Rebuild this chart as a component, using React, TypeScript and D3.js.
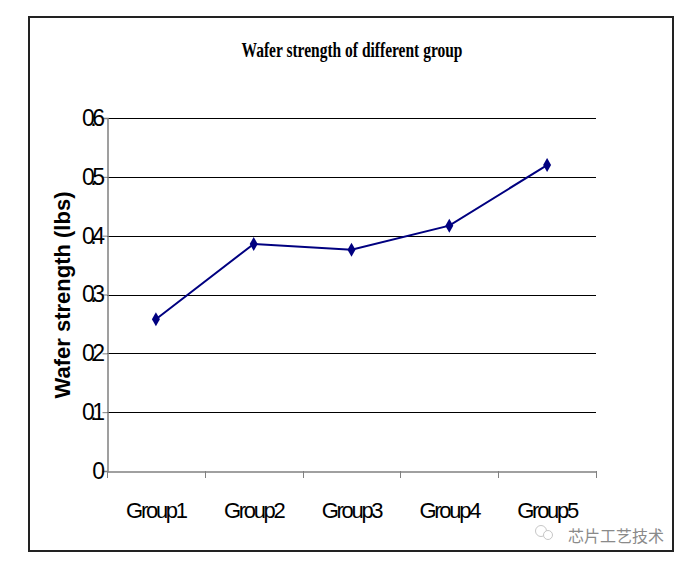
import { useEffect, useRef } from "react";
import * as d3 from "d3";

const groups = ["Group1", "Group2", "Group3", "Group4", "Group5"];
const strength = [0.258, 0.386, 0.376, 0.417, 0.52];
const yTicks = [0, 0.1, 0.2, 0.3, 0.4, 0.5, 0.6];

export default function App() {
  const ref = useRef<SVGSVGElement>(null);

  useEffect(() => {
    const svg = d3.select(ref.current);
    svg.selectAll("*").remove();

    const W = 692;
    const H = 566;
    const plot = { left: 107, right: 596, top: 118, bottom: 471 };

    svg.append("rect").attr("width", W).attr("height", H).attr("fill", "#fff");

    // outer frame
    svg
      .append("rect")
      .attr("x", 29)
      .attr("y", 17)
      .attr("width", 644)
      .attr("height", 534)
      .attr("fill", "none")
      .attr("stroke", "#222")
      .attr("stroke-width", 2);

    const x = d3.scaleBand().domain(groups).range([plot.left, plot.right]).padding(0);
    const y = d3.scaleLinear().domain([0, 0.6]).range([plot.bottom, plot.top]);

    // gridlines
    svg
      .append("g")
      .selectAll("line")
      .data(yTicks.filter((t) => t > 0))
      .join("line")
      .attr("x1", plot.left)
      .attr("x2", plot.right)
      .attr("y1", (d) => Math.round(y(d)) + 0.5)
      .attr("y2", (d) => Math.round(y(d)) + 0.5)
      .attr("stroke", "#000")
      .attr("stroke-width", 1);

    // y axis
    const yAxis = svg
      .append("g")
      .attr("transform", `translate(${plot.left + 0.5},0)`)
      .call(
        d3
          .axisLeft(y)
          .tickValues(yTicks)
          .tickSize(5)
          .tickPadding(2)
          .tickFormat((d) => (d === 0 ? "0" : d3.format(".1f")(d as number)))
      );
    yAxis.select(".domain").attr("stroke", "#808080").attr("stroke-width", 1.5);
    yAxis.selectAll(".tick line").attr("stroke", "#808080");
    yAxis
      .selectAll("text")
      .attr("font-family", "'Liberation Sans', Arial, sans-serif")
      .attr("font-size", 23)
      .attr("letter-spacing", -4.5)
      .attr("fill", "#000");

    // x axis
    const xAxis = svg
      .append("g")
      .attr("transform", `translate(0,${plot.bottom + 0.5})`)
      .call(d3.axisBottom(x).tickSize(0).tickPadding(31));
    xAxis.select(".domain").attr("stroke", "#808080").attr("stroke-width", 1.5);
    xAxis
      .selectAll("text")
      .attr("font-family", "'Liberation Sans', Arial, sans-serif")
      .attr("font-size", 22)
      .attr("letter-spacing", -2.3)
      .attr("fill", "#000");
    const edges = [...groups.map((g) => x(g)!), plot.right];
    svg
      .append("g")
      .selectAll("line")
      .data(edges)
      .join("line")
      .attr("x1", (d) => Math.round(d) + 0.5)
      .attr("x2", (d) => Math.round(d) + 0.5)
      .attr("y1", plot.bottom)
      .attr("y2", plot.bottom + 7)
      .attr("stroke", "#808080")
      .attr("stroke-width", 1);

    // line
    const cx = (i: number) => x(groups[i])! + x.bandwidth() / 2;
    const line = d3
      .line<number>()
      .x((_, i) => cx(i))
      .y((d) => y(d));
    svg
      .append("path")
      .datum(strength)
      .attr("d", line)
      .attr("fill", "none")
      .attr("stroke", "#000080")
      .attr("stroke-width", 2);

    svg
      .append("g")
      .selectAll("path")
      .data(strength)
      .join("path")
      .attr("transform", (d, i) => `translate(${cx(i)},${y(d)})`)
      .attr("d", "M0,-7 L4,0 L0,7 L-4,0 Z")
      .attr("fill", "#000080");

    // title
    svg
      .append("text")
      .attr("x", 352)
      .attr("y", 57)
      .attr("text-anchor", "middle")
      .attr("font-family", "'Liberation Serif', 'Times New Roman', serif")
      .attr("font-weight", "bold")
      .attr("font-size", 21)
      .attr("textLength", 221)
      .attr("lengthAdjust", "spacingAndGlyphs")
      .text("Wafer strength of different group");

    // y title
    svg
      .append("text")
      .attr("transform", `translate(70,${295}) rotate(-90)`)
      .attr("text-anchor", "middle")
      .attr("font-family", "'Liberation Sans', Arial, sans-serif")
      .attr("font-weight", "bold")
      .attr("font-size", 22)
      .text("Wafer strength (lbs)");

    // watermark
    const wm = svg.append("g").attr("transform", "translate(535,535)").attr("opacity", 0.55);
    wm.append("circle").attr("cx", 6).attr("cy", -4).attr("r", 5.5).attr("fill", "none").attr("stroke", "#999").attr("stroke-width", 1);
    wm.append("circle").attr("cx", 13).attr("cy", 0).attr("r", 4.5).attr("fill", "#fff").attr("stroke", "#999").attr("stroke-width", 1);
    svg
      .append("text")
      .attr("x", 568)
      .attr("y", 542)
      .attr("font-family", "'Noto Sans CJK SC', sans-serif")
      .attr("font-size", 16)
      .attr("fill", "#8a8a8a")
      .text("芯片工艺技术");
  }, []);

  return (
    <svg
      ref={ref}
      width={692}
      height={566}
      style={{ position: "absolute", left: 0, top: 0, display: "block" }}
    ></svg>
  );
}
